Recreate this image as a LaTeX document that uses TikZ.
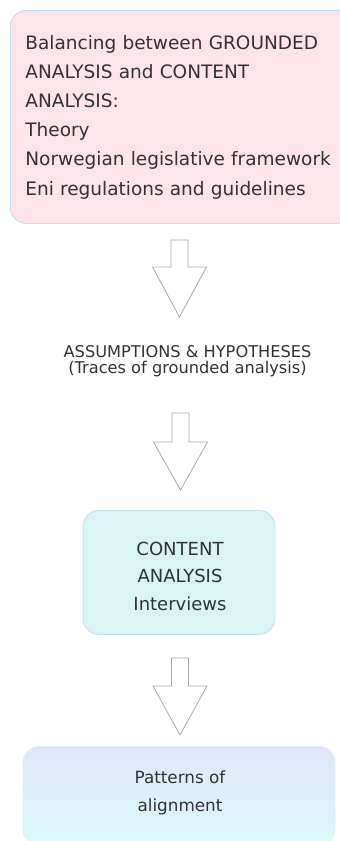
\documentclass[tikz,border=0pt]{standalone}
\usepackage{fontspec}
\setmainfont{DejaVu Sans}
\definecolor{pinkfill}{HTML}{FCE4EA}
\definecolor{tealfill}{HTML}{D9F4F3}
\definecolor{lavtop}{HTML}{E0E6F8}
\definecolor{cyanbot}{HTML}{DAFAF8}
\definecolor{boxline}{HTML}{C8DCF2}
\definecolor{arrowline}{HTML}{ABABAB}
\definecolor{ink}{HTML}{333333}
\begin{document}
\begin{tikzpicture}[x=1pt,y=-1pt,
  box/.style={draw=boxline, line width=0.8pt, rounded corners=16pt, inner sep=0pt, text=ink},
  bodytext/.style={font=\fontsize{18.5}{29.2}\selectfont},
  blockarrow/.style={draw=arrowline, fill=white, line width=0.8pt, line join=miter}]
\useasboundingbox (0,0) rectangle (340,841);
\fill[white] (0,0) rectangle (340,841);

% block arrow pointing down: #1 = centre x, #2 = top, #3 = head base, #4 = tip
\newcommand{\downarrowshape}[4]{%
  \draw[blockarrow] (#1-8.5,#2) -- (#1+8.5,#2) -- (#1+8.5,#3) -- (#1+27,#3)
    -- (#1,#4) -- (#1-27,#3) -- (#1-8.5,#3) -- cycle;}

% sources of the analysis
\node[box, fill=pinkfill, anchor=north west, minimum width=332pt, minimum height=213pt,
      bodytext, align=left, text width=330pt, inner xsep=15pt] (sources) at (10,10)
  {Balancing between GROUNDED\\ANALYSIS and CONTENT\\ANALYSIS:\\Theory\\Norwegian legislative framework\\Eni regulations and guidelines};

\downarrowshape{179.5}{240}{267}{317}

% assumptions
\node[text=ink, align=center, font=\fontsize{16.2}{16.6}\selectfont] (assume) at (187.5,361)
  {ASSUMPTIONS \& HYPOTHESES\\(Traces of grounded analysis)};

\downarrowshape{180.5}{413}{442}{490}

% content analysis
\node[box, fill=tealfill, minimum width=192pt, minimum height=124pt,
      anchor=north, inner sep=0pt] (content) at (179,510) {};
\node[text=ink, align=center, font=\fontsize{18}{27.5}\selectfont] (contenttext) at (180,576)
  {CONTENT\\ANALYSIS\\Interviews};

\downarrowshape{180}{658}{686}{735}

% result
\node[box, draw=boxline!45, top color=lavtop, bottom color=cyanbot, minimum width=312pt,
      minimum height=99pt, anchor=north] (patterns) at (179,746) {};
\node[text=ink, align=center, font=\fontsize{16.8}{28}\selectfont] (patternstext) at (180,793)
  {Patterns of\\alignment};
\end{tikzpicture}
\end{document}
